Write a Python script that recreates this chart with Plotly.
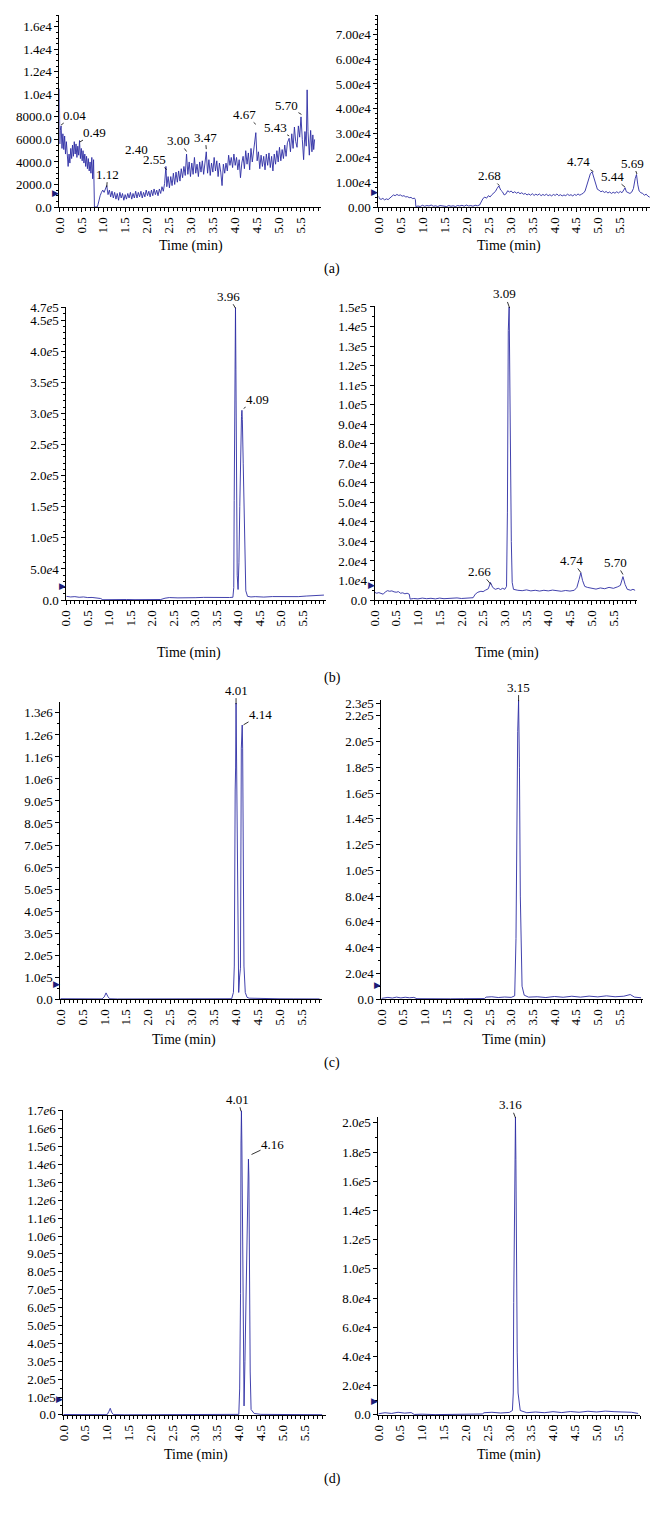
import plotly.graph_objects as go

# ------------------------------------------------------------------ data ----
x_tick_values = [0.0, 0.5, 1.0, 1.5, 2.0, 2.5, 3.0, 3.5, 4.0, 4.5, 5.0, 5.5]
x_tick_labels = ["0.0", "0.5", "1.0", "1.5", "2.0", "2.5", "3.0", "3.5", "4.0", "4.5", "5.0", "5.5"]

# (a) left
a_left_time = [
    0.00, 0.01, 0.02, 0.04, 0.06, 0.08, 0.10, 0.12, 0.14, 0.16,
    0.18, 0.20, 0.22, 0.24, 0.26, 0.28, 0.30, 0.32, 0.34, 0.36,
    0.38, 0.40, 0.42, 0.44, 0.46, 0.48, 0.50, 0.52, 0.54, 0.56,
    0.58, 0.60, 0.62, 0.64, 0.66, 0.68, 0.70, 0.72, 0.74, 0.76,
    0.78, 0.79, 0.80, 0.83, 0.86, 0.88, 0.90, 0.93, 0.96, 0.99,
    1.02, 1.05, 1.08, 1.11, 1.14, 1.17, 1.20, 1.23, 1.26, 1.29,
    1.32, 1.35, 1.38, 1.41, 1.44, 1.47, 1.50, 1.53, 1.56, 1.59,
    1.62, 1.65, 1.68, 1.71, 1.74, 1.77, 1.80, 1.83, 1.86, 1.89,
    1.92, 1.95, 1.98, 2.01, 2.04, 2.07, 2.10, 2.13, 2.16, 2.19,
    2.22, 2.25, 2.28, 2.31, 2.34, 2.37, 2.40, 2.43, 2.45, 2.48,
    2.51, 2.54, 2.57, 2.60, 2.63, 2.66, 2.69, 2.72, 2.75, 2.78,
    2.81, 2.84, 2.87, 2.90, 2.93, 2.96, 2.99, 3.02, 3.05, 3.08,
    3.11, 3.14, 3.17, 3.20, 3.23, 3.26, 3.29, 3.32, 3.35, 3.38,
    3.41, 3.44, 3.47, 3.50, 3.53, 3.56, 3.59, 3.62, 3.65, 3.68,
    3.71, 3.74, 3.77, 3.80, 3.83, 3.86, 3.89, 3.92, 3.95, 3.98,
    4.01, 4.04, 4.07, 4.10, 4.13, 4.16, 4.19, 4.22, 4.25, 4.28,
    4.31, 4.34, 4.37, 4.40, 4.43, 4.46, 4.48, 4.51, 4.54, 4.57,
    4.60, 4.63, 4.66, 4.69, 4.72, 4.75, 4.78, 4.81, 4.84, 4.87,
    4.90, 4.93, 4.96, 4.99, 5.02, 5.05, 5.08, 5.11, 5.14, 5.17,
    5.20, 5.24, 5.27, 5.30, 5.33, 5.36, 5.39, 5.42, 5.45, 5.48,
    5.51, 5.54, 5.57, 5.60, 5.63, 5.65, 5.67, 5.70, 5.73, 5.76,
    5.78, 5.80, 5.82,
]
a_left_signal = [
    10500, 5600, 6800, 7200, 5200, 6500, 5100, 6300, 4700, 5800,
    4000, 3600, 4700, 3900, 5200, 4300, 5500, 4500, 5800, 4700,
    5600, 4400, 5400, 4600, 5900, 4300, 5200, 4100, 5000, 3900,
    4700, 3600, 4500, 3400, 4300, 3200, 4000, 3000, 4400, 2500,
    4200, 3000, 0, 0, 0, 200, 600, 1000, 1300, 1500,
    1300, 1600, 1900, 1100, 1500, 900, 1400, 800, 1300, 700,
    1200, 600, 1300, 800, 1200, 600, 1100, 700, 1200, 800,
    1300, 700, 1200, 800, 1400, 800, 1300, 900, 1400, 800,
    1300, 900, 1500, 1000, 1400, 900, 1500, 1000, 1600, 1100,
    1500, 1000, 1600, 1200, 1800, 1400, 2100, 3600, 1800, 2700,
    1700, 2700, 1900, 3000, 2000, 3100, 2200, 3200, 2300, 3400,
    2600, 3600, 2800, 4700, 2900, 4000, 2700, 3900, 2900, 4400,
    3000, 3800, 2700, 4000, 3100, 4100, 2900, 3900, 4900, 3000,
    4200, 2800, 3900, 3100, 4400, 3200, 4100, 2700, 3900, 3100,
    1900, 3800, 3000, 3900, 3200, 4600, 3700, 4400, 3500, 4700,
    3700, 4400, 3300, 4200, 2600, 3900, 4500, 3400, 5000, 3800,
    4800, 3300, 5200, 4000, 4900, 5600, 6600, 4100, 4900, 3400,
    4600, 3600, 4500, 3300, 4700, 3700, 4800, 3500, 4500, 3200,
    4700, 3800, 5000, 4000, 5300, 4100, 5100, 4300, 5500, 4500,
    5700, 6100, 4900, 6500, 5200, 7100, 5800, 5300, 7200, 6200,
    8000, 6000, 4200, 6700, 5400, 10400, 6700, 4600, 6800, 4900,
    6400, 5100, 6000,
]
a_left_ytick_values = [0, 2000, 4000, 6000, 8000, 10000, 12000, 14000, 16000]
a_left_ytick_labels = ["0.0", "2000.0", "4000.0", "6000.0", "8000.0",
                       "1.0<i>e</i>4", "1.2<i>e</i>4", "1.4<i>e</i>4", "1.6<i>e</i>4"]
a_left_peak_labels = ["0.04", "0.49", "1.12", "2.40", "2.55", "3.00", "3.47", "4.67", "5.43", "5.70"]
a_left_peak_times = [0.04, 0.47, 1.08, 2.30, 2.45, 2.90, 3.35, 4.48, 5.24, 5.52]
a_left_peak_heights = [7280, 5780, 1760, 1800, 3320, 4930, 5140, 7340, 6310, 8220]
a_left_marker_level = 1200

# (a) right
a_right_time = [
    0.00, 0.02, 0.06, 0.10, 0.14, 0.18, 0.22, 0.26, 0.30, 0.34,
    0.38, 0.42, 0.46, 0.50, 0.54, 0.58, 0.62, 0.66, 0.70, 0.74,
    0.78, 0.82, 0.84, 0.85, 0.90, 0.95, 1.00, 1.05, 1.10, 1.15,
    1.20, 1.25, 1.30, 1.35, 1.40, 1.45, 1.50, 1.55, 1.60, 1.65,
    1.70, 1.75, 1.80, 1.85, 1.90, 1.95, 2.00, 2.05, 2.10, 2.15,
    2.20, 2.25, 2.30, 2.34, 2.38, 2.42, 2.46, 2.50, 2.54, 2.58,
    2.62, 2.66, 2.70, 2.74, 2.78, 2.82, 2.86, 2.90, 2.94, 2.98,
    3.02, 3.06, 3.10, 3.14, 3.18, 3.22, 3.26, 3.30, 3.34, 3.38,
    3.42, 3.46, 3.50, 3.54, 3.58, 3.62, 3.66, 3.70, 3.74, 3.78,
    3.82, 3.86, 3.90, 3.94, 3.98, 4.02, 4.06, 4.10, 4.14, 4.18,
    4.22, 4.26, 4.30, 4.34, 4.38, 4.42, 4.46, 4.50, 4.54, 4.58,
    4.62, 4.66, 4.70, 4.74, 4.78, 4.82, 4.86, 4.90, 4.94, 4.98,
    5.02, 5.06, 5.10, 5.14, 5.18, 5.22, 5.26, 5.30, 5.34, 5.38,
    5.42, 5.46, 5.50, 5.54, 5.58, 5.61, 5.64, 5.68, 5.72, 5.76,
    5.80, 5.84, 5.87, 5.90, 5.93, 5.97, 6.01, 6.05, 6.09, 6.13,
    6.17,
]
a_right_signal = [
    4500, 3400, 3100, 3500, 2900, 3300, 3000, 3600, 4200, 4900,
    4600, 5100, 4700, 4900, 4400, 4600, 4100, 4200, 3800, 3900,
    3400, 3600, 3000, 200, 400, 200, 700, 300, 600, 400,
    800, 300, 500, 200, 600, 400, 500, 200, 600, 300,
    500, 200, 600, 400, 700, 300, 800, 400, 600, 300,
    700, 500, 800, 2400, 3500, 4000, 3600, 4600, 4100, 5000,
    5600, 6300, 7600, 8600, 6900, 6200, 4900, 5300, 6600, 6100,
    6500, 5700, 6200, 5600, 6000, 5400, 5800, 5200, 5500, 4900,
    5300, 4800, 5400, 4700, 5200, 4800, 5300, 4600, 5100, 4700,
    5200, 4600, 5000, 4500, 5100, 4700, 5300, 4600, 5000, 4500,
    4900, 4600, 5200, 4700, 5000, 4500, 5100, 4700, 5300, 4800,
    5200, 5600, 6500, 8800, 11500, 13500, 14300, 12000, 9000, 7200,
    6800, 6200, 6500, 5900, 6300, 5700, 6100, 5500, 6000, 5600,
    6200, 5700, 6300, 5800, 6900, 7800, 6200, 5800, 5500, 6000,
    7500, 11500, 13200, 9000, 6500, 5800, 5500, 4800, 5200, 4400,
    4000,
]
a_right_ytick_values = [0, 10000, 20000, 30000, 40000, 50000, 60000, 70000]
a_right_ytick_labels = ["0.00", "1.00<i>e</i>4", "2.00<i>e</i>4", "3.00<i>e</i>4", "4.00<i>e</i>4",
                        "5.00<i>e</i>4", "6.00<i>e</i>4", "7.00<i>e</i>4"]
a_right_peak_labels = ["2.68", "4.74", "5.44", "5.69"]
a_right_peak_times = [2.75, 4.89, 5.61, 5.88]
a_right_peak_heights = [8720, 14350, 8050, 13400]
a_right_marker_level = 6000

# (b) left
b_left_time = [
    0.00, 0.10, 0.20, 0.30, 0.40, 0.50, 0.60, 0.70, 0.80, 0.85,
    1.00, 1.20, 1.40, 1.60, 1.80, 2.00, 2.20, 2.30, 2.40, 2.60,
    2.80, 3.00, 3.20, 3.40, 3.60, 3.80, 3.88, 3.90, 3.91, 3.92,
    3.93, 3.94, 3.95, 3.96, 3.97, 3.98, 4.00, 4.02, 4.04, 4.06,
    4.08, 4.09, 4.10, 4.12, 4.14, 4.16, 4.18, 4.22, 4.30, 4.40,
    4.60, 4.80, 5.00, 5.20, 5.40, 5.60, 5.80, 5.90, 6.00,
]
b_left_signal = [
    6000, 5000, 5500, 4500, 5000, 4000, 4200, 3000, 2500, 500,
    800, 500, 900, 600, 800, 700, 900, 3000, 4000, 3500,
    4200, 3800, 4300, 4000, 4400, 4100, 4500, 20000, 160000, 300000,
    400000, 470000, 370000, 240000, 120000, 40000, 17000, 60000, 150000, 250000,
    295000, 305000, 290000, 220000, 150000, 60000, 15000, 6000, 5000, 5500,
    4800, 5600, 5200, 6000, 5500, 6500, 7500, 6800, 8000,
]
b_left_ytick_values = [0, 50000, 100000, 150000, 200000, 250000, 300000, 350000, 400000, 450000, 470000]
b_left_ytick_labels = ["0.0", "5.0<i>e</i>4", "1.0<i>e</i>5", "1.5<i>e</i>5", "2.0<i>e</i>5", "2.5<i>e</i>5",
                       "3.0<i>e</i>5", "3.5<i>e</i>5", "4.0<i>e</i>5", "4.5<i>e</i>5", "4.7<i>e</i>5"]
b_left_peak_labels = ["3.96", "4.09"]
b_left_peak_times = [3.94, 4.13]
b_left_peak_heights = [469000, 308000]
b_left_marker_level = 22000

# (b) right
b_right_time = [
    0.00, 0.05, 0.10, 0.15, 0.20, 0.25, 0.30, 0.35, 0.40, 0.45,
    0.50, 0.55, 0.60, 0.65, 0.70, 0.75, 0.80, 0.82, 0.90, 1.00,
    1.10, 1.20, 1.30, 1.40, 1.50, 1.60, 1.70, 1.80, 1.90, 2.00,
    2.10, 2.20, 2.27, 2.32, 2.38, 2.45, 2.50, 2.55, 2.62, 2.67,
    2.72, 2.78, 2.85, 2.90, 2.95, 3.00, 3.04, 3.06, 3.07, 3.08,
    3.10, 3.11, 3.13, 3.15, 3.17, 3.20, 3.30, 3.40, 3.50, 3.60,
    3.70, 3.80, 3.90, 4.00, 4.10, 4.20, 4.30, 4.40, 4.50, 4.60,
    4.66, 4.71, 4.75, 4.79, 4.84, 4.90, 5.00, 5.10, 5.20, 5.30,
    5.40, 5.50, 5.60, 5.66, 5.72, 5.77, 5.82, 5.90, 5.95, 6.00,
]
b_right_signal = [
    4000, 3500, 3800, 3300, 3000, 4200, 4800, 4500, 4700, 4200,
    4000, 4300, 3500, 3700, 3200, 3500, 3000, 500, 800, 600,
    1000, 700, 900, 600, 1000, 700, 900, 800, 1100, 800,
    1000, 900, 1200, 3000, 4000, 4500, 4300, 5000, 5800, 9000,
    6500, 5500, 6000, 5400, 6000, 5500, 7000, 45000, 90000, 138000,
    150000, 123000, 78000, 30000, 9000, 5500, 5000, 4800, 5200, 4700,
    5000, 4600, 5000, 4700, 5100, 4800, 4500, 4900, 4600, 5000,
    6500, 10500, 14000, 10000, 7000, 6500, 6000, 5600, 6200, 5800,
    6500, 6000, 6800, 7500, 12000, 8000, 5500, 5000, 5500, 5000,
]
b_right_ytick_values = [0, 10000, 20000, 30000, 40000, 50000, 60000, 70000, 80000,
                        90000, 100000, 110000, 120000, 130000, 140000, 150000]
b_right_ytick_labels = ["0.0", "1.0<i>e</i>4", "2.0<i>e</i>4", "3.0<i>e</i>4", "4.0<i>e</i>4", "5.0<i>e</i>4",
                        "6.0<i>e</i>4", "7.0<i>e</i>4", "8.0<i>e</i>4", "9.0<i>e</i>4", "1.0<i>e</i>5",
                        "1.1<i>e</i>5", "1.2<i>e</i>5", "1.3<i>e</i>5", "1.4<i>e</i>5", "1.5<i>e</i>5"]
b_right_peak_labels = ["3.09", "2.66", "4.74", "5.70"]
b_right_peak_times = [3.11, 2.68, 4.75, 5.72]
b_right_peak_heights = [149500, 8040, 14100, 13100]
b_right_marker_level = 7500

# (c) left
c_left_time = [
    0.00, 0.20, 0.40, 0.60, 0.80, 0.95, 1.00, 1.04, 1.08, 1.12,
    1.30, 1.60, 2.00, 2.40, 2.80, 3.20, 3.60, 3.90, 3.94, 3.96,
    3.98, 3.99, 4.00, 4.01, 4.02, 4.04, 4.06, 4.08, 4.10, 4.12,
    4.14, 4.15, 4.16, 4.18, 4.21, 4.25, 4.30, 4.50, 4.80, 5.00,
    5.30, 5.60, 5.90,
]
c_left_signal = [
    1500, 1000, 1200, 800, 600, 800, 10000, 28000, 12000, 1500,
    500, 800, 600, 900, 1000, 1200, 1100, 1500, 30000, 150000,
    950000, 1050000, 1345000, 1050000, 780000, 150000, 30000, 100000, 140000, 1140000,
    1245000, 1140000, 690000, 150000, 30000, 8000, 4000, 2500, 2000, 1200,
    1000, 800, 600,
]
c_left_ytick_values = [0, 100000, 200000, 300000, 400000, 500000, 600000, 700000,
                       800000, 900000, 1000000, 1100000, 1200000, 1300000]
c_left_ytick_labels = ["0.0", "1.0<i>e</i>5", "2.0<i>e</i>5", "3.0<i>e</i>5", "4.0<i>e</i>5", "5.0<i>e</i>5",
                       "6.0<i>e</i>5", "7.0<i>e</i>5", "8.0<i>e</i>5", "9.0<i>e</i>5", "1.0<i>e</i>6",
                       "1.1<i>e</i>6", "1.2<i>e</i>6", "1.3<i>e</i>6"]
c_left_peak_labels = ["4.01", "4.14"]
c_left_peak_times = [4.00, 4.17]
c_left_peak_heights = [1340000, 1246000]
c_left_marker_level = 67000

# (c) right
c_right_time = [
    0.00, 0.15, 0.25, 0.35, 0.45, 0.55, 0.65, 0.75, 0.82, 1.00,
    1.30, 1.60, 1.90, 2.20, 2.38, 2.42, 2.55, 2.70, 2.85, 3.00,
    3.08, 3.11, 3.13, 3.15, 3.17, 3.18, 3.19, 3.21, 3.23, 3.25,
    3.30, 3.40, 3.60, 3.80, 4.00, 4.20, 4.40, 4.60, 4.80, 5.00,
    5.20, 5.40, 5.60, 5.75, 5.85, 6.00,
]
c_right_signal = [
    500, 1300, 800, 1500, 900, 1400, 1000, 1300, 300, 200,
    400, 200, 300, 200, 400, 1500, 1800, 1200, 1600, 1300,
    2500, 47000, 150000, 208000, 232000, 208000, 180000, 80000, 38000, 10000,
    3000, 1500, 1800, 1200, 2000, 1400, 2200, 1500, 2300, 1700,
    2500, 1800, 2200, 3500, 1500, 1000,
]
c_right_ytick_values = [0, 20000, 40000, 60000, 80000, 100000, 120000, 140000,
                        160000, 180000, 200000, 220000, 230000]
c_right_ytick_labels = ["0.0", "2.0<i>e</i>4", "4.0<i>e</i>4", "6.0<i>e</i>4", "8.0<i>e</i>4", "1.0<i>e</i>5",
                        "1.2<i>e</i>5", "1.4<i>e</i>5", "1.6<i>e</i>5", "1.8<i>e</i>5", "2.0<i>e</i>5",
                        "2.2<i>e</i>5", "2.3<i>e</i>5"]
c_right_peak_labels = ["3.15"]
c_right_peak_times = [3.17]
c_right_peak_heights = [231500]
c_right_marker_level = 11000

# (d) left
d_left_time = [
    0.00, 0.20, 0.50, 0.80, 1.00, 1.04, 1.07, 1.10, 1.14, 1.40,
    1.80, 2.20, 2.60, 3.00, 3.40, 3.80, 4.00, 4.02, 4.04, 4.05,
    4.06, 4.07, 4.08, 4.09, 4.11, 4.12, 4.14, 4.16, 4.18, 4.20,
    4.22, 4.23, 4.24, 4.26, 4.28, 4.35, 4.50, 4.80, 5.00, 5.40,
    5.90,
]
d_left_signal = [
    2000, 1500, 1000, 800, 1500, 20000, 37000, 15000, 2000, 800,
    600, 900, 700, 1000, 800, 1200, 3000, 145000, 680000, 1520000,
    1700000, 1520000, 1220000, 640000, 90000, 50000, 300000, 620000, 920000, 1330000,
    1430000, 1330000, 720000, 240000, 30000, 8000, 3000, 2500, 2000, 1500,
    1000,
]
d_left_ytick_values = [0, 100000, 200000, 300000, 400000, 500000, 600000, 700000, 800000,
                       900000, 1000000, 1100000, 1200000, 1300000, 1400000, 1500000, 1600000, 1700000]
d_left_ytick_labels = ["0.0", "1.0<i>e</i>5", "2.0<i>e</i>5", "3.0<i>e</i>5", "4.0<i>e</i>5", "5.0<i>e</i>5",
                       "6.0<i>e</i>5", "7.0<i>e</i>5", "8.0<i>e</i>5", "9.0<i>e</i>5", "1.0<i>e</i>6",
                       "1.1<i>e</i>6", "1.2<i>e</i>6", "1.3<i>e</i>6", "1.4<i>e</i>6", "1.5<i>e</i>6",
                       "1.6<i>e</i>6", "1.7<i>e</i>6"]
d_left_peak_labels = ["4.01", "4.16"]
d_left_peak_times = [4.05, 4.29]
d_left_peak_heights = [1698000, 1456000]
d_left_marker_level = 87000

# (d) right
d_right_time = [
    0.00, 0.15, 0.30, 0.45, 0.60, 0.75, 0.82, 1.00, 1.30, 1.60,
    1.90, 2.20, 2.38, 2.42, 2.60, 2.80, 3.00, 3.07, 3.09, 3.10,
    3.12, 3.14, 3.15, 3.16, 3.18, 3.20, 3.25, 3.40, 3.60, 3.80,
    4.00, 4.20, 4.40, 4.60, 4.80, 5.00, 5.20, 5.40, 5.60, 5.80,
    5.95,
]
d_right_signal = [
    800, 1500, 1000, 1800, 1200, 1600, 300, 500, 200, 400,
    300, 500, 600, 1500, 1800, 1300, 1700, 3000, 15000, 77000,
    175000, 204000, 175000, 113000, 43000, 15000, 3000, 1500, 2000, 1500,
    2200, 1600, 2300, 1800, 2500, 2000, 2600, 2200, 2000, 1800,
    1000,
]
d_right_ytick_values = [0, 20000, 40000, 60000, 80000, 100000, 120000, 140000, 160000, 180000, 200000]
d_right_ytick_labels = ["0.0", "2.0<i>e</i>4", "4.0<i>e</i>4", "6.0<i>e</i>4", "8.0<i>e</i>4", "1.0<i>e</i>5",
                        "1.2<i>e</i>5", "1.4<i>e</i>5", "1.6<i>e</i>5", "1.8<i>e</i>5", "2.0<i>e</i>5"]
d_right_peak_labels = ["3.16"]
d_right_peak_times = [3.14]
d_right_peak_heights = [203500]
d_right_marker_level = 9500

x_title = "Time (min)"
panel_tags = ["(a)", "(b)", "(c)", "(d)"]

# --------------------------------------------------------------- layout ----
PAGE_W, PAGE_H = 660, 1513
SERIF = "Liberation Serif"
TRACE_COLOR = "#2c2ca4"
MARK_COLOR = "#1c1c78"

panels = [
    dict(t=a_left_time, v=a_left_signal, xpx=(52, 317), ypx=(8, 202), xmax=5.97, ymax=17055,
         yv=a_left_ytick_values, yt=a_left_ytick_labels, yminor=500, mark=a_left_marker_level,
         labels=a_left_peak_labels, lt=a_left_peak_times, lh=a_left_peak_heights,
         offs=[(13, -10), (15, -9), (1, -13), None, (-12, -10), (-8, -11), (-1, -12), (-11, -10), (-14, -8), (-15, -9)],
         shift={3: (-24, 37)}),
    dict(t=a_right_time, v=a_right_signal, xpx=(375, 650), ypx=(8, 202), xmax=6.18, ymax=78046,
         yv=a_right_ytick_values, yt=a_right_ytick_labels, yminor=2000, mark=a_right_marker_level,
         labels=a_right_peak_labels, lt=a_right_peak_times, lh=a_right_peak_heights,
         offs=[(-10, -10), (-15, -10), (-13, -11), (-4, -11)], shift={}),
    dict(t=b_left_time, v=b_left_signal, xpx=(59, 322), ypx=(303, 599), xmax=6.05, ymax=471000,
         yv=b_left_ytick_values, yt=b_left_ytick_labels, yminor=10000, mark=b_left_marker_level,
         labels=b_left_peak_labels, lt=b_left_peak_times, lh=b_left_peak_heights,
         offs=[(-7, -12), (14, -9)], shift={}),
    dict(t=b_right_time, v=b_right_signal, xpx=(371, 637), ypx=(302, 599), xmax=6.05, ymax=150500,
         yv=b_right_ytick_values, yt=b_right_ytick_labels, yminor=5000, mark=b_right_marker_level,
         labels=b_right_peak_labels, lt=b_right_peak_times, lh=b_right_peak_heights,
         offs=[(-5, -14), (-11, -13), (-9, -12), (-7, -12)], shift={}),
    dict(t=c_left_time, v=c_left_signal, xpx=(53, 318), ypx=(702, 1002), xmax=5.96, ymax=1349500,
         yv=c_left_ytick_values, yt=c_left_ytick_labels, yminor=50000, mark=c_left_marker_level,
         labels=c_left_peak_labels, lt=c_left_peak_times, lh=c_left_peak_heights,
         offs=[(0, -14), (17, -10)], shift={}),
    dict(t=c_right_time, v=c_right_signal, xpx=(378, 643), ypx=(700, 1002), xmax=6.05, ymax=232300,
         yv=c_right_ytick_values, yt=c_right_ytick_labels, yminor=10000, mark=c_right_marker_level,
         labels=c_right_peak_labels, lt=c_right_peak_times, lh=c_right_peak_heights,
         offs=[(0, -14)], shift={}),
    dict(t=d_left_time, v=d_left_signal, xpx=(56, 322), ypx=(1114, 1422), xmax=5.99, ymax=1705000,
         yv=d_left_ytick_values, yt=d_left_ytick_labels, yminor=50000, mark=d_left_marker_level,
         labels=d_left_peak_labels, lt=d_left_peak_times, lh=d_left_peak_heights,
         offs=[(-3, -12), (21, -10)], shift={}),
    dict(t=d_right_time, v=d_right_signal, xpx=(375, 640), ypx=(1121, 1422), xmax=6.0, ymax=204100,
         yv=d_right_ytick_values, yt=d_right_ytick_labels, yminor=10000, mark=d_right_marker_level,
         labels=d_right_peak_labels, lt=d_right_peak_times, lh=d_right_peak_heights,
         offs=[(-5, -13)], shift={}),
]

fig = go.Figure()
annotations = []
tick_font = dict(family=SERIF, size=13, color="black")
label_font = dict(family=SERIF, size=13, color="black")

for i, p in enumerate(panels, start=1):
    xa = "x" if i == 1 else f"x{i}"
    ya = "y" if i == 1 else f"y{i}"
    fig.add_trace(go.Scatter(
        x=p["t"], y=p["v"], mode="lines", xaxis=xa, yaxis=ya,
        line=dict(color=TRACE_COLOR, width=0.9), showlegend=False, hoverinfo="skip"))
    x0, x1 = p["xpx"]
    ytop, ybot = p["ypx"]
    xaxis = dict(
        domain=[x0 / PAGE_W, x1 / PAGE_W], range=[0, p["xmax"]], anchor=ya,
        tickmode="array", tickvals=x_tick_values, ticktext=x_tick_labels, tickangle=-90,
        ticks="outside", ticklen=4, tickwidth=1, tickcolor="black",
        showline=True, linecolor="black", linewidth=1, showgrid=False, zeroline=False,
        minor=dict(tickmode="linear", tick0=0, dtick=0.1, ticks="outside", ticklen=3,
                   tickwidth=1, tickcolor="black", showgrid=False),
        tickfont=tick_font, fixedrange=True)
    yaxis = dict(
        domain=[1 - ybot / PAGE_H, 1 - ytop / PAGE_H], range=[0, p["ymax"]], anchor=xa,
        tickmode="array", tickvals=p["yv"], ticktext=p["yt"],
        ticks="outside", ticklen=4, tickwidth=1, tickcolor="black",
        showline=True, linecolor="black", linewidth=1, showgrid=False, zeroline=False,
        minor=dict(tickmode="linear", tick0=0, dtick=p["yminor"], ticks="outside", ticklen=2,
                   tickwidth=1, tickcolor="black", showgrid=False),
        tickfont=tick_font, fixedrange=True)
    fig.update_layout(**{("xaxis" if i == 1 else f"xaxis{i}"): xaxis,
                         ("yaxis" if i == 1 else f"yaxis{i}"): yaxis})

    # peak labels
    for j, (lab, lt, lh) in enumerate(zip(p["labels"], p["lt"], p["lh"])):
        if j in p["shift"]:
            dx, dy = p["shift"][j]
            annotations.append(dict(x=lt, y=lh, xref=xa, yref=ya, text=lab, showarrow=False,
                                    xshift=dx, yshift=dy, font=label_font))
        else:
            dx, dy = p["offs"][j]
            annotations.append(dict(x=lt, y=lh, xref=xa, yref=ya, text=lab, showarrow=True,
                                    arrowhead=0, arrowwidth=0.8, arrowcolor="black",
                                    ax=dx, ay=dy, standoff=0, borderpad=0, font=label_font))
    # baseline marker triangle on the y axis
    annotations.append(dict(x=0, y=p["mark"], xref=xa, yref=ya, text="\u25B6", showarrow=False,
                            xanchor="right", yanchor="middle", xshift=2,
                            font=dict(family="DejaVu Sans", size=9, color=MARK_COLOR)))

# axis titles and panel tags
title_rows = [(185, 507, 241), (183, 505, 652), (178, 512, 1043), (190, 507, 1463)]
tag_rows = [265, 678, 1067, 1487]
for (xl, xr, yy), tag, ty in zip(title_rows, panel_tags, tag_rows):
    for xx in (xl, xr):
        annotations.append(dict(x=xx / PAGE_W, y=1 - yy / PAGE_H, xref="paper", yref="paper",
                                text=x_title, showarrow=False, xanchor="center", yanchor="middle",
                                font=dict(family=SERIF, size=14, color="black")))
    annotations.append(dict(x=328 / PAGE_W, y=1 - ty / PAGE_H, xref="paper", yref="paper",
                            text=tag, showarrow=False, xanchor="center", yanchor="middle",
                            font=dict(family=SERIF, size=14, color="black")))

fig.update_layout(
    width=PAGE_W, height=PAGE_H, autosize=False,
    margin=dict(l=0, r=0, t=0, b=0, pad=0),
    paper_bgcolor="white", plot_bgcolor="white",
    showlegend=False, annotations=annotations,
    font=dict(family=SERIF, color="black"),
)

fig.write_html("out.html", config={"displayModeBar": False, "staticPlot": True},
               post_script="document.body.style.margin='0';document.body.style.padding='0';")
